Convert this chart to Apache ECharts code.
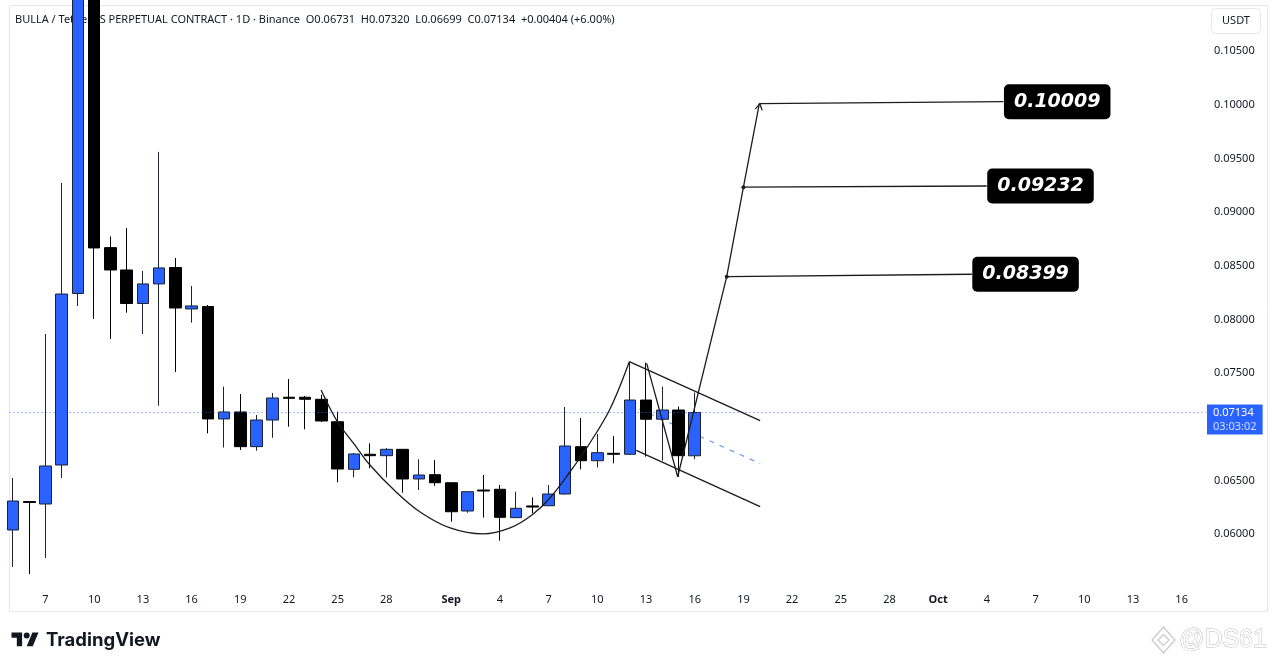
<!DOCTYPE html>
<html><head><meta charset="utf-8">
<script src="https://cdn.jsdelivr.net/npm/echarts@6/dist/echarts.min.js"></script>
<style>html,body{margin:0;padding:0;background:#fff;}#c{width:1280px;height:669px;}</style>
</head><body><div id="c"></div>
<script>
// ---- candle data (daily, BULLA/USDT perpetual) ----
const dates = ['2025-08-05','2025-08-06','2025-08-07','2025-08-08','2025-08-09','2025-08-10','2025-08-11','2025-08-12','2025-08-13','2025-08-14',
  '2025-08-15','2025-08-16','2025-08-17','2025-08-18','2025-08-19','2025-08-20','2025-08-21','2025-08-22','2025-08-23','2025-08-24',
  '2025-08-25','2025-08-26','2025-08-27','2025-08-28','2025-08-29','2025-08-30','2025-08-31','2025-09-01','2025-09-02','2025-09-03',
  '2025-09-04','2025-09-05','2025-09-06','2025-09-07','2025-09-08','2025-09-09','2025-09-10','2025-09-11','2025-09-12','2025-09-13',
  '2025-09-14','2025-09-15','2025-09-16'];
const open  = [0.06040,0.06305,0.06282,0.06645,0.08242,0.11250,0.08669,0.08461,0.08149,0.08331,
  0.08484,0.08098,0.08121,0.07074,0.07139,0.06816,0.07064,0.07276,0.07276,0.07257,
  0.07048,0.06605,0.06745,0.06732,0.06791,0.06515,0.06555,0.06480,0.06217,0.06412,
  0.06419,0.06155,0.06264,0.06266,0.06375,0.06816,0.06685,0.06754,0.06745,0.07250,
  0.07071,0.07157,0.06731];
const close = [0.06310,0.06296,0.06636,0.08237,0.11300,0.08666,0.08461,0.08149,0.08331,0.08480,
  0.08107,0.08126,0.07074,0.07139,0.06816,0.07064,0.07269,0.07266,0.07257,0.07055,
  0.06608,0.06748,0.06732,0.06791,0.06515,0.06552,0.06480,0.06210,0.06397,0.06403,
  0.06158,0.06242,0.06254,0.06375,0.06822,0.06685,0.06760,0.06745,0.07250,0.07071,
  0.07157,0.06732,0.07134];
const low   = [0.05696,0.05630,0.05779,0.06524,0.08126,0.08005,0.07818,0.08063,0.07865,0.07197,
  0.07511,0.07971,0.06940,0.06808,0.06785,0.06778,0.06899,0.07002,0.06978,0.07046,
  0.06484,0.06531,0.06614,0.06531,0.06387,0.06412,0.06450,0.06117,0.06201,0.06155,
  0.05940,0.06155,0.06196,0.06264,0.06370,0.06605,0.06622,0.06661,0.06740,0.06723,
  0.06685,0.06536,0.06699];
const high  = [0.06524,0.06310,0.07865,0.09271,0.11800,0.11600,0.08773,0.08852,0.08452,0.09560,
  0.08573,0.08312,0.08135,0.07375,0.07306,0.07111,0.07316,0.07446,0.07288,0.07300,
  0.07142,0.06757,0.06847,0.06804,0.06794,0.06698,0.06692,0.06480,0.06397,0.06552,
  0.06459,0.06397,0.06344,0.06459,0.07185,0.07083,0.06934,0.06915,0.07607,0.07598,
  0.07374,0.07188,0.07320];

// ---- axis ticks (x in days since first candle) ----
const xTickDay    = [2,5,8,11,14,17,20,23,27,30,33,36,39,42,45,48,51,54,57,60,63,66,69,72];
const xTickLabels = ['7','10','13','16','19','22','25','28','Sep','4','7','10','13','16','19','22','25','28','Oct','4','7','10','13','16'];
const yTickValues = [0.060,0.065,0.075,0.080,0.085,0.090,0.095,0.100,0.105];

const lastPrice = 0.07134;
const countdown = '03:03:02';

// ---- drawings (day index, price) ----
const cupPath = [[18.98,0.07344],[19.96,0.07055],[21.01,0.06841],[21.99,0.06645],[23.54,0.06403],[25.08,0.06208],
  [26.93,0.06059],[28.96,0.06003],[30.62,0.06059],[31.97,0.06180],[33.08,0.06338],[34.31,0.06580],[35.54,0.06850],
  [36.78,0.07167],[37.97,0.07607]];
const channelUpper = [[37.97,0.07607],[46.03,0.07058]];
const channelLower = [[38.40,0.06781],[46.03,0.06257]];
const channelMid   = [[37.97,0.07209],[46.03,0.06658]];
const projectionPath = [[39.04,0.07592],[40.95,0.06536],[43.97,0.08399],[45.00,0.09232],[45.98,0.10009]];
const targets     = [0.08399,0.09232,0.10009];
const targetStart = [[43.97,0.08399],[45.00,0.09232],[45.98,0.10009]];
const targetEnd   = [[59.07,0.08421],[59.99,0.09243],[61.02,0.10028]];

const headerText = 'BULLA / TetherUS PERPETUAL CONTRACT · 1D · Binance  O0.06731  H0.07320  L0.06699  C0.07134  +0.00404 (+6.00%)';

const chart = echarts.init(document.getElementById('c'));
const INK = '#1c1c1c';
const FONT = 'Noto Sans';

function lineSeries(data, extra) {
  return Object.assign({
    type: 'line', data: data, symbol: 'none', silent: true, z: 5,
    lineStyle: { color: INK, width: 1.3 }, animation: false
  }, extra || {});
}

const series = [
  lineSeries(channelMid, { z: 2, lineStyle: { color: '#6d9af0', width: 1.2, type: [5, 6] } }),
  {
    type: 'candlestick',
    dimensions: ['day','open','close','lowest','highest'],
    encode: { x: 'day', y: ['open','close','lowest','highest'] },
    data: dates.map((d, i) => [i, open[i], close[i], low[i], high[i]]),
    barWidth: 12, clip: true, z: 3, animation: false,
    itemStyle: { color: '#2962ff', color0: '#000000', borderColor: '#1b2233', borderColor0: '#000000', borderWidth: 1 },
    markLine: {
      silent: true, symbol: ['none','none'], animation: false, precision: 5,
      lineStyle: { color: 'rgba(41,98,255,0.6)', type: [1.5, 2.5], width: 1 },
      label: {
        show: true, position: 'end', distance: 1, offset: [0, 7],
        formatter: '{a|' + lastPrice.toFixed(5) + '}\n{b|' + countdown + '}',
        backgroundColor: '#2962ff', padding: [1, 6, 1, 6],
        rich: {
          a: { color: '#ffffff', fontSize: 11, lineHeight: 14, fontFamily: FONT },
          b: { color: 'rgba(255,255,255,0.78)', fontSize: 11, lineHeight: 14, fontFamily: FONT }
        }
      },
      data: [{ yAxis: lastPrice }]
    }
  },
  lineSeries(cupPath, { smooth: 0.35 }),
  lineSeries(channelUpper),
  lineSeries(channelLower),
  lineSeries(projectionPath),
  lineSeries([targetStart[0], targetEnd[0]]),
  lineSeries([targetStart[1], targetEnd[1]]),
  lineSeries([targetStart[2], targetEnd[2]]),
  {
    type: 'scatter', data: targetStart.slice(0, 2), symbolSize: 4, silent: true, z: 6, animation: false,
    itemStyle: { color: INK, opacity: 1 }
  },
  {
    type: 'scatter', data: [targetStart[2]], silent: true, z: 6, animation: false,
    symbol: 'path://M0,7 L4,0 L8,7', symbolSize: [7, 6], symbolRotate: -11, symbolOffset: [0, 3],
    itemStyle: { color: 'none', borderColor: INK, borderWidth: 1.2, opacity: 1 }
  },
  {
    type: 'scatter', silent: true, z: 7, animation: false, symbolSize: 1,
    itemStyle: { color: 'rgba(0,0,0,0)', opacity: 1 },
    data: targetEnd.map((p, i) => ({ value: p, label: { formatter: targets[i].toFixed(5) } })),
    label: {
      show: true, position: 'right', distance: 0, opacity: 1,
      backgroundColor: '#000000', borderRadius: 5, padding: [6, 10, 6, 10],
      color: '#ffffff', fontSize: 19, fontWeight: 'bold', fontStyle: 'italic',
      fontFamily: 'DejaVu Sans', lineHeight: 23, textBorderWidth: 0
    }
  }
];

const option = {
  backgroundColor: '#ffffff',
  animation: false,
  grid: { left: 9.3, right: 74, top: 5, bottom: 81 },
  xAxis: {
    type: 'value', min: -0.23, max: 73.5,
    axisLine: { show: false }, axisTick: { show: false }, splitLine: { show: false },
    axisLabel: {
      customValues: xTickDay, margin: 6, color: '#131722', fontSize: 11, fontFamily: FONT,
      formatter: function (v) {
        const k = xTickDay.indexOf(Math.round(v));
        if (k < 0) return '';
        const t = xTickLabels[k];
        return (t === 'Sep' || t === 'Oct') ? '{b|' + t + '}' : t;
      },
      rich: { b: { fontWeight: 'bold', color: '#131722', fontSize: 11, fontFamily: FONT } }
    }
  },
  yAxis: {
    type: 'value', position: 'right', min: 0.055, max: 0.10928, scale: true,
    axisLine: { show: false }, axisTick: { show: false }, splitLine: { show: false },
    axisLabel: {
      customValues: yTickValues, margin: 8, color: '#131722', fontSize: 11, fontFamily: FONT,
      formatter: v => v.toFixed(5)
    }
  },
  series: series,
  graphic: [
    { type: 'rect', z: 0, silent: true, shape: { x: 9.5, y: 5.5, width: 1258, height: 606 },
      style: { fill: 'none', stroke: '#e6e8ee', lineWidth: 1 } },
    { type: 'text', z: 1, silent: true, x: 15, y: 20, style: { text: headerText, fill: '#131722', font: '11px "Noto Sans"', verticalAlign: 'middle' } },
    { type: 'rect', z: 10, silent: true, shape: { x: 1211.5, y: 8.5, width: 49, height: 25, r: 4 },
      style: { fill: '#ffffff', stroke: '#e6e8ee', lineWidth: 1 } },
    { type: 'text', z: 11, silent: true, x: 1236, y: 21, style: { text: 'USDT', fill: '#131722', font: '11px "Noto Sans"', align: 'center', verticalAlign: 'middle' } },
    { type: 'polygon', z: 10, silent: true, shape: { points: [[22.14,646.2],[16.82,646.2],[16.82,637.8],[11.5,637.8],[11.5,632.5],[22.14,632.5]] }, style: { fill: '#131722' } },
    { type: 'circle', z: 10, silent: true, shape: { cx: 26.7, cy: 635.5, r: 3.0 }, style: { fill: '#131722' } },
    { type: 'polygon', z: 10, silent: true, shape: { points: [[32.78,646.2],[26.7,646.2],[32.4,632.5],[38.48,632.5]] }, style: { fill: '#131722' } },
    { type: 'text', z: 10, silent: true, x: 46, y: 640, style: { text: 'TradingView', fill: '#131722', font: 'bold 18.5px "Inter"', verticalAlign: 'middle' } },
    { type: 'polygon', z: 10, silent: true, shape: { points: [[1163.5,627],[1175,640],[1163.5,653],[1152,640]] },
      style: { fill: 'none', stroke: '#c9c9c9', lineWidth: 1.2 } },
    { type: 'polygon', z: 10, silent: true, shape: { points: [[1163.5,634.5],[1169,640],[1163.5,645.5],[1158,640]] },
      style: { fill: 'none', stroke: '#c9c9c9', lineWidth: 1.2 } },
    { type: 'text', z: 10, silent: true, x: 1179, y: 640,
      style: { text: '@DS61', fill: '#ffffff', stroke: '#bdbdbd', lineWidth: 1, font: '25px "Liberation Sans"', verticalAlign: 'middle' } }
  ]
};
chart.setOption(option);
</script>
</body></html>
